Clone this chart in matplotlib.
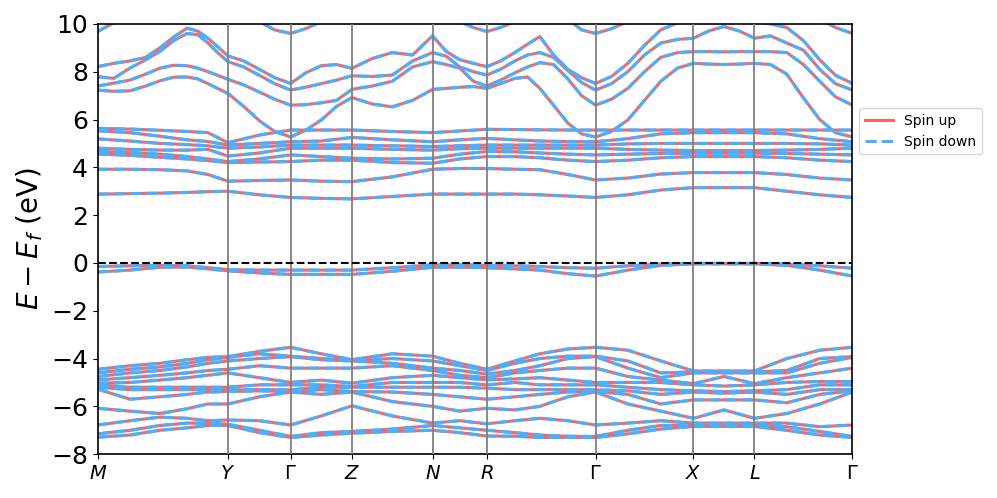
import numpy as np
import matplotlib.pyplot as plt

# high-symmetry points along the path
sym_labels = ['$M$', '$Y$', r'$\Gamma$', '$Z$', '$N$', '$R$', r'$\Gamma$', '$X$', '$L$', r'$\Gamma$']
sym_k = [0, 130.3, 193, 254.3, 335, 389.3, 498, 596, 657, 755]

# coarse k grid (path distance) for the flatter bands
kpath = [0, 32.3, 62.3, 89.3, 110.3, 130.3, 161.7, 193, 223.7, 254.3, 294.7, 335, 362.2,
         389.3, 417.3, 442.3, 470.3, 498, 530.3, 563.3, 596, 626.5, 657, 689.3, 722.3, 755]

# finer k grid for the upper conduction bands
kpath_fine = [0, 16, 32.3, 48, 62.3, 76, 89.3, 100, 110.3, 120, 130.3,
              146, 161.7, 177, 193,
              208, 223.7, 239, 254.3,
              274.5, 294.7, 315, 335,
              348.6, 362.2, 375.8, 389.3,
              403, 417.3, 430, 442.3, 456, 470.3, 484, 498,
              514, 530.3, 547, 563.3, 580, 596,
              611, 626.5, 642, 657,
              673, 689.3, 706, 722.3, 738, 755]

# energies (eV) per k-point, one row per k-point
valence_rows = [
    [-7.29, -7.15, -6.78, -6.08, -5.28, -5.2, -5.1, -5.03, -4.89, -4.75, -4.6, -4.45],
    [-7.2, -7.0, -6.6, -6.2, -5.7, -5.3, -5.2, -5.0, -4.8, -4.6, -4.45, -4.3],
    [-7.0, -6.8, -6.45, -6.3, -5.6, -5.3, -5.2, -4.9, -4.7, -4.5, -4.35, -4.2],
    [-6.9, -6.7, -6.5, -6.1, -5.5, -5.3, -5.2, -4.8, -4.6, -4.35, -4.2, -4.05],
    [-6.8, -6.7, -6.6, -5.9, -5.4, -5.3, -5.2, -4.7, -4.5, -4.2, -4.05, -3.95],
    [-6.8, -6.75, -6.57, -5.9, -5.38, -5.31, -5.2, -4.6, -4.45, -4.1, -3.95, -3.92],
    [-7.1, -7.0, -6.6, -5.6, -5.35, -5.3, -5.1, -4.8, -4.3, -4.0, -3.8, -3.7],
    [-7.3, -7.26, -6.78, -5.4, -5.38, -5.31, -5.1, -5.0, -4.4, -3.92, -3.9, -3.53],
    [-7.2, -7.1, -6.4, -5.5, -5.3, -5.2, -5.1, -4.9, -4.4, -4.05, -4.0, -3.8],
    [-7.12, -7.05, -5.98, -5.4, -5.38, -5.2, -5.17, -5.03, -4.4, -4.1, -4.08, -4.05],
    [-7.05, -6.95, -6.4, -5.8, -5.4, -5.2, -5.0, -4.8, -4.3, -4.2, -4.0, -3.8],
    [-7.0, -6.8, -6.7, -6.0, -5.5, -5.2, -5.0, -4.7, -4.5, -4.4, -4.1, -3.9],
    [-7.1, -6.9, -6.6, -6.2, -5.6, -5.2, -5.0, -4.8, -4.7, -4.5, -4.3, -4.2],
    [-7.24, -7.0, -6.73, -6.08, -5.7, -5.24, -5.1, -4.89, -4.8, -4.65, -4.5, -4.45],
    [-7.25, -7.1, -6.6, -6.15, -5.6, -5.3, -5.0, -4.85, -4.6, -4.5, -4.2, -4.1],
    [-7.3, -7.2, -6.5, -6.0, -5.5, -5.3, -5.1, -4.8, -4.5, -4.3, -4.0, -3.8],
    [-7.3, -7.25, -6.6, -5.6, -5.4, -5.3, -5.1, -4.9, -4.4, -4.0, -3.9, -3.6],
    [-7.3, -7.26, -6.78, -5.4, -5.38, -5.31, -5.1, -5.0, -4.4, -3.92, -3.9, -3.53],
    [-7.15, -7.0, -6.7, -5.9, -5.5, -5.35, -5.2, -5.0, -4.75, -4.4, -4.1, -3.65],
    [-6.95, -6.8, -6.6, -6.2, -5.9, -5.5, -5.3, -5.0, -4.9, -4.8, -4.6, -4.1],
    [-6.84, -6.78, -6.7, -6.5, -5.73, -5.4, -5.35, -5.1, -5.05, -4.6, -4.56, -4.52],
    [-6.84, -6.78, -6.7, -6.15, -5.73, -5.45, -5.38, -5.15, -4.75, -4.6, -4.56, -4.52],
    [-6.84, -6.78, -6.7, -6.5, -5.73, -5.4, -5.35, -5.1, -5.05, -4.6, -4.56, -4.52],
    [-7.0, -6.85, -6.7, -6.3, -5.85, -5.5, -5.3, -5.0, -4.8, -4.6, -4.5, -4.0],
    [-7.2, -7.05, -6.85, -5.9, -5.5, -5.3, -5.1, -4.96, -4.6, -4.2, -4.0, -3.65],
    [-7.3, -7.26, -6.78, -5.4, -5.35, -5.3, -5.1, -4.96, -4.4, -3.95, -3.92, -3.53],
]

edge_vb2 = [-0.38, -0.3, -0.18, -0.17, -0.25, -0.33, -0.42, -0.48, -0.48, -0.48, -0.35, -0.18, -0.18,
            -0.2, -0.25, -0.3, -0.45, -0.55, -0.3, -0.1, -0.04, -0.04, -0.04, -0.1, -0.3, -0.55]
edge_vb1 = [-0.15, -0.12, -0.1, -0.12, -0.2, -0.28, -0.3, -0.3, -0.3, -0.3, -0.2, -0.08, -0.08,
            -0.1, -0.12, -0.15, -0.2, -0.22, -0.12, -0.05, -0.02, -0.02, -0.02, -0.05, -0.12, -0.22]
edge_cb1 = [2.88, 2.9, 2.92, 2.95, 2.98, 3.0, 2.85, 2.74, 2.7, 2.68, 2.78, 2.88, 2.88,
            2.88, 2.88, 2.85, 2.8, 2.74, 2.85, 3.05, 3.15, 3.15, 3.15, 3.0, 2.85, 2.74]
edge_cb2 = [3.92, 3.92, 3.9, 3.85, 3.7, 3.42, 3.45, 3.47, 3.42, 3.4, 3.6, 3.92, 3.95,
            3.95, 3.92, 3.9, 3.7, 3.47, 3.55, 3.72, 3.78, 3.78, 3.78, 3.7, 3.55, 3.47]

middle_rows = [
    [4.56, 4.66, 4.8, 5.19, 5.53, 5.63],
    [4.5, 4.62, 4.75, 5.1, 5.45, 5.6],
    [4.42, 4.55, 4.72, 5.0, 5.3, 5.55],
    [4.35, 4.45, 4.72, 4.95, 5.15, 5.5],
    [4.28, 4.35, 4.75, 4.9, 5.08, 5.45],
    [4.2, 4.24, 4.47, 4.8, 4.93, 5.03],
    [4.22, 4.35, 4.6, 4.85, 5.0, 5.35],
    [4.24, 4.52, 4.8, 4.93, 5.07, 5.56],
    [4.3, 4.45, 4.8, 4.93, 5.1, 5.56],
    [4.3, 4.38, 4.8, 4.93, 5.25, 5.56],
    [4.2, 4.35, 4.75, 4.9, 5.15, 5.5],
    [4.17, 4.38, 4.72, 4.87, 5.07, 5.45],
    [4.35, 4.55, 4.78, 4.9, 5.15, 5.52],
    [4.45, 4.66, 4.8, 4.93, 5.21, 5.59],
    [4.45, 4.65, 4.8, 4.93, 5.15, 5.58],
    [4.4, 4.6, 4.8, 4.93, 5.1, 5.57],
    [4.3, 4.55, 4.8, 4.93, 5.08, 5.56],
    [4.24, 4.52, 4.8, 4.93, 5.07, 5.56],
    [4.3, 4.55, 4.75, 4.98, 5.2, 5.56],
    [4.4, 4.58, 4.72, 5.0, 5.4, 5.56],
    [4.45, 4.59, 4.7, 5.0, 5.45, 5.56],
    [4.45, 4.59, 4.7, 5.0, 5.45, 5.56],
    [4.45, 4.59, 4.7, 5.0, 5.45, 5.56],
    [4.4, 4.58, 4.72, 5.0, 5.4, 5.56],
    [4.3, 4.55, 4.75, 4.98, 5.2, 5.56],
    [4.24, 4.52, 4.8, 4.93, 5.07, 5.56],
]

# upper conduction bands on the fine grid
upper_u0 = [7.23, 7.18, 7.2, 7.4, 7.62, 7.77, 7.78, 7.7, 7.5, 7.3, 7.09,
            6.55, 5.95, 5.5, 5.27,
            5.55, 5.98, 6.55, 6.92,
            6.65, 6.53, 6.8, 7.26,
            7.3, 7.35, 7.38, 7.3,
            7.5, 7.72, 7.78, 7.3, 6.6, 5.85, 5.4, 5.27,
            5.5, 5.98, 6.8, 7.6, 8.15, 8.35,
            8.32, 8.3, 8.32, 8.35,
            8.3, 7.9, 6.9, 6.0, 5.45, 5.27]
upper_u1 = [7.4, 7.52, 7.65, 7.9, 8.15, 8.27, 8.25, 8.15, 8.0, 7.85, 7.68,
            7.45, 7.15, 6.85, 6.6,
            6.62, 6.7, 6.8, 7.26,
            7.4, 7.6, 8.2, 8.42,
            8.3, 8.15, 7.6, 7.4,
            7.65, 7.95, 8.2, 8.38, 8.3, 7.7, 7.0, 6.6,
            6.85, 7.3, 8.0, 8.6, 8.8, 8.84,
            8.84, 8.83, 8.84, 8.84,
            8.84, 8.8, 8.3, 7.6, 6.95, 6.6]
upper_u2 = [7.79, 7.72, 8.15, 8.5, 8.85, 9.3, 9.6, 9.55, 9.2, 8.8, 8.42,
            8.2, 7.85, 7.5, 7.23,
            7.35, 7.5, 7.65, 7.83,
            7.8, 7.86, 8.45, 8.8,
            8.65, 8.2, 8.0, 7.86,
            8.1, 8.45, 8.7, 8.8, 8.6, 8.05, 7.55, 7.23,
            7.5, 8.0, 8.7, 9.2, 9.35, 9.4,
            9.7, 9.89, 9.7, 9.4,
            9.5, 9.2, 8.9, 8.1, 7.5, 7.23]
upper_u3 = [8.21, 8.35, 8.45, 8.6, 9.0, 9.45, 9.82, 9.7, 9.4, 9.05, 8.66,
            8.45, 8.1, 7.75, 7.51,
            7.95, 8.25, 8.3, 8.14,
            8.55, 8.8, 8.7, 9.5,
            8.85, 8.5, 8.35, 8.21,
            8.45, 8.8, 9.15, 9.47, 8.7, 8.1, 7.75, 7.51,
            7.8, 8.35, 9.1, 9.75, 10.05, 10.1,
            10.3, 10.4, 10.3, 10.1,
            10.0, 9.85, 9.3, 8.5, 7.85, 7.51]
upper_u4 = [9.68, 10.05, 10.4, 10.8, 10.8, 10.8, 10.8, 10.8, 10.8, 10.8, 10.8,
            10.5, 10.1, 9.75, 9.6,
            9.8, 10.1, 10.5, 10.8,
            10.8, 10.8, 10.6, 10.4,
            10.3, 10.1, 9.85, 9.68,
            9.85, 10.1, 10.5, 10.8, 10.8, 10.2, 9.75, 9.6,
            9.8, 10.1, 10.5, 10.8, 10.8, 10.8,
            10.8, 10.8, 10.8, 10.8,
            10.8, 10.8, 10.5, 10.2, 9.85, 9.6]

coarse = np.column_stack([np.array(valence_rows), edge_vb2, edge_vb1, edge_cb1, edge_cb2,
                          np.array(middle_rows)])
fine = np.column_stack([upper_u0, upper_u1, upper_u2, upper_u3, upper_u4])

fig, ax = plt.subplots(figsize=(9.97, 4.98), dpi=100)
fig.subplots_adjust(left=0.098, right=0.855, top=0.952, bottom=0.088)

# spin up (solid) then spin down (dashed) on top
for kk, bb in [(kpath, coarse), (kpath_fine, fine)]:
    for i in range(bb.shape[1]):
        ax.plot(kk, bb[:, i], color='#ff6464', lw=2.2, ls='-')
for kk, bb in [(kpath, coarse), (kpath_fine, fine)]:
    for i in range(bb.shape[1]):
        ax.plot(kk, bb[:, i], color='#47b0ff', lw=2.2, ls='--')

ax.plot([], [], color='#ff6464', lw=2.2, ls='-', label='Spin up')
ax.plot([], [], color='#47b0ff', lw=2.2, ls='--', label='Spin down')

for k in sym_k[1:-1]:
    ax.axvline(k, color='#808080', lw=1.3, zorder=3)
ax.axhline(0, color='black', ls='--', lw=1.5, zorder=4)

ax.set_xlim(sym_k[0], sym_k[-1])
ax.set_ylim(-8, 10)
ax.set_yticks(range(-8, 11, 2))
ax.set_xticks(sym_k)
ax.set_xticklabels(sym_labels, fontsize=14)
ax.tick_params(axis='y', labelsize=18)
ax.set_ylabel('$E - E_f$ (eV)', fontsize=20)
for s in ax.spines.values():
    s.set_linewidth(1.2)

ax.legend(loc='center left', bbox_to_anchor=(1.0, 0.75), fontsize=10)

fig.savefig('out.png', dpi=100)
